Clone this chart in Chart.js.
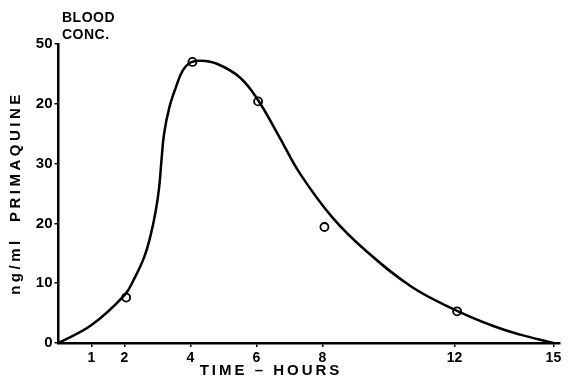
<!DOCTYPE html>
<html>
<head>
<meta charset="utf-8">
<script src="https://cdn.jsdelivr.net/npm/chart.js@4/dist/chart.umd.min.js"></script>
<style>
  html, body { margin: 0; padding: 0; background: #fff; }
  #wrap { width: 570px; height: 381px; }
</style>
</head>
<body>
<div id="wrap"><canvas id="chart" width="570" height="381"></canvas></div>
<script>
// smooth curve as drawn (hours, ng/ml)
const curveTimes = [0, 1, 2, 2.3, 2.6, 2.8, 2.95, 3.05, 3.12, 3.2, 3.36, 3.56, 3.76, 4.0, 4.3, 4.8, 5.5, 6.05, 6.7, 7.3, 8.3, 9.3, 10.7, 12, 13.2, 14, 15];
const curveValues = [0, 3.0, 8.0, 10.8, 14.4, 18.2, 22.2, 26, 30.5, 35, 39.4, 42.8, 45.5, 46.9, 47.2, 46.7, 44.4, 40.6, 34.4, 28.5, 21, 15.5, 9.4, 5.6, 2.8, 1.4, 0];

// measured points (open circles)
const sampleTimes = [2.05, 4.06, 6.05, 8.06, 12.08];
const sampleValues = [7.6, 47, 40.4, 19.4, 5.3];

const xTickValues = [1, 2, 4, 6, 8, 12, 15];
const yTickValues = [0, 10, 20, 30, 40, 50];
const yTickLabels = ["0", "10", "20", "30", "20", "50"];

const FONT = "'Liberation Sans', Arial, sans-serif";

const titles = {
    id: "titles",
    afterDraw(chart) {
        const ctx = chart.ctx;
        ctx.save();
        ctx.fillStyle = "#000";
        ctx.font = "bold 14px " + FONT;
        ctx.textBaseline = "alphabetic";
        ctx.textAlign = "left";
        ctx.letterSpacing = "0.5px";
        ctx.fillText("BLOOD", 62, 22);
        ctx.fillText("CONC.", 62, 39);

        ctx.font = "bold 15px " + FONT;
        ctx.letterSpacing = "3px";
        ctx.textAlign = "center";
        ctx.textBaseline = "middle";
        ctx.fillText("TIME – HOURS", 271, 371);

        ctx.translate(16, 193);
        ctx.rotate(-Math.PI / 2);
        ctx.letterSpacing = "3.5px";
        ctx.fillText("ng/ml  PRIMAQUINE", 0, 0);
        ctx.restore();
    }
};

new Chart(document.getElementById("chart").getContext("2d"), {
    type: "scatter",
    data: {
        datasets: [{
            label: "curve",
            data: curveTimes.map((t, i) => ({ x: t, y: curveValues[i] })),
            showLine: true,
            borderColor: "#000",
            borderWidth: 2.5,
            pointRadius: 0,
            tension: 0.4,
            fill: false
        }, {
            label: "samples",
            data: sampleTimes.map((t, i) => ({ x: t, y: sampleValues[i] })),
            showLine: false,
            pointRadius: 4,
            pointBorderWidth: 1.8,
            pointBorderColor: "#000",
            pointBackgroundColor: "#fff"
        }]
    },
    options: {
        animation: false,
        responsive: false,
        devicePixelRatio: 1,
        layout: { padding: { left: 0, right: 10, top: 44, bottom: 0 } },
        plugins: { legend: { display: false }, tooltip: { enabled: false } },
        scales: {
            x: {
                type: "linear",
                min: 0,
                max: 15.2,
                afterBuildTicks: (scale) => { scale.ticks = xTickValues.map(v => ({ value: v })); },
                afterFit: (scale) => { scale.height = 38; },
                ticks: {
                    color: "#000",
                    font: { family: FONT, size: 14, weight: "bold" },
                    padding: 3,
                    maxRotation: 0,
                    autoSkip: false
                },
                grid: { display: true, drawOnChartArea: false, drawTicks: true, tickLength: 4, color: "#000", lineWidth: 1.5 },
                border: { display: true, color: "#000", width: 2.5 }
            },
            y: {
                type: "linear",
                min: 0,
                max: 50,
                afterBuildTicks: (scale) => { scale.ticks = yTickValues.map(v => ({ value: v })); },
                afterFit: (scale) => { scale.width = 58.5; },
                ticks: {
                    color: "#000",
                    font: { family: FONT, size: 15, weight: "bold" },
                    padding: 2,
                    callback: (v, i) => yTickLabels[i]
                },
                grid: { display: true, drawOnChartArea: false, drawTicks: true, tickLength: 4, color: "#000", lineWidth: 1.5 },
                border: { display: true, color: "#000", width: 2.5 }
            }
        }
    },
    plugins: [titles]
});
</script>
</body>
</html>
